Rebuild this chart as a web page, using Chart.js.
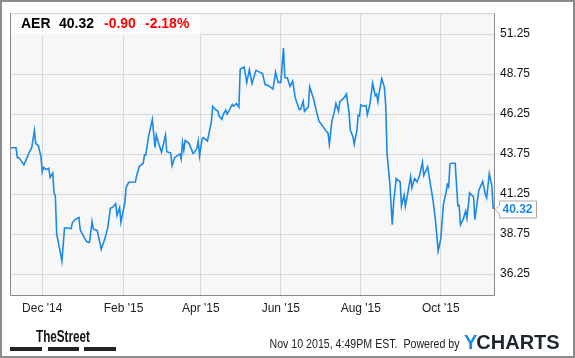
<!DOCTYPE html>
<html>
<head>
<meta charset="utf-8">
<style>
  html, body { margin: 0; padding: 0; background: #fff; }
  canvas { display: block; }
</style>
<script src="https://cdn.jsdelivr.net/npm/chart.js"></script>
</head>
<body>
<canvas id="c" width="575" height="358"></canvas>
<script>
// days counted from 1 Dec 2014, closing prices
const days = [-24, -20, -19, -18, -17, -14, -12, -10, -8, -6, -5, -3, -1, 0, 1, 3, 5, 6, 8, 9,
  10, 11, 13, 15, 17, 19, 22, 23, 25, 28, 29, 32, 34, 36, 38, 39, 42, 45, 48, 50,
  52, 54, 56, 57, 59, 60, 63, 64, 66, 71, 72, 74, 77, 78, 79, 81, 84, 86, 87, 89,
  91, 94, 95, 98, 99, 101, 103, 105, 106, 107, 108, 109, 112, 115, 116, 118, 119, 120, 122, 123,
  126, 129, 130, 132, 134, 135, 137, 138, 140, 141, 143, 145, 146, 148, 150, 151, 154, 156, 158, 160,
  163, 165, 168, 170, 172, 176, 178, 180, 182, 184, 185, 187, 189, 191, 193, 196, 197, 199, 200, 203,
  204, 207, 209, 211, 212, 214, 217, 218, 219, 221, 223, 224, 226, 227, 230, 232, 234, 235, 237, 238,
  240, 241, 242, 243, 245, 247, 248, 250, 252, 254, 255, 256, 257, 259, 261, 262, 263, 265, 267, 268,
  270, 273, 274, 276, 277, 279, 281, 282, 284, 286, 288, 290, 291, 294, 296, 298, 300, 302, 304, 306,
  308, 309, 310, 311, 312, 315, 317, 318, 319, 321, 323, 324, 326, 329, 330, 332, 333, 336, 338, 339,
  341, 343, 344];
const prices = [44.15, 44.15, 43.53, 43.53, 43.45, 43.08, 43.45, 43.86, 44.15, 45.22, 44.42, 44.27, 43.60, 42.63, 42.92, 42.78, 42.87, 42.30, 42.57, 41.33,
  41.13, 38.76, 37.94, 37.07, 39.13, 39.13, 39.09, 39.46, 39.66, 39.79, 39.01, 38.55, 38.27, 38.23, 39.54, 39.07, 38.97, 37.81, 38.52, 39.17,
  40.37, 40.45, 40.65, 39.91, 40.40, 39.50, 40.71, 41.68, 41.99, 42.01, 42.40, 42.98, 43.18, 43.70, 43.70, 44.83, 45.92, 44.15, 44.94, 44.36,
  43.86, 44.94, 43.90, 43.82, 43.04, 43.53, 43.66, 43.76, 43.45, 44.48, 43.98, 44.60, 44.42, 43.80, 43.84, 44.11, 44.57, 43.64, 44.73, 44.77,
  44.57, 45.76, 46.73, 46.54, 46.42, 46.11, 45.92, 46.21, 46.50, 46.25, 46.54, 46.85, 46.74, 46.91, 46.68, 49.05, 49.19, 48.23, 49.01, 48.16,
  48.98, 48.90, 48.78, 48.08, 48.06, 47.81, 48.86, 48.23, 48.23, 50.37, 48.53, 48.50, 47.98, 48.31, 47.26, 46.54, 46.54, 47.05, 46.42, 46.70,
  47.96, 47.19, 46.48, 45.82, 45.71, 45.49, 45.14, 45.06, 44.36, 45.82, 46.45, 46.91, 46.42, 47.03, 47.24, 47.50, 46.37, 45.24, 44.83, 44.36,
  45.24, 46.17, 46.13, 46.82, 46.74, 46.79, 46.21, 46.89, 48.18, 47.40, 47.50, 47.03, 47.61, 48.47, 47.92, 46.79, 43.80, 42.05, 39.34, 40.71,
  42.22, 42.01, 40.51, 41.19, 40.49, 41.39, 42.34, 41.64, 42.22, 42.01, 42.47, 43.24, 42.42, 42.96, 41.89, 40.92, 39.58, 37.69, 38.45, 40.61,
  41.33, 41.85, 41.70, 43.12, 43.18, 43.18, 40.53, 40.55, 39.34, 39.66, 40.20, 39.75, 41.33, 41.07, 39.65, 40.86, 41.48, 42.05, 41.23, 41.02,
  42.53, 41.74, 40.32];

const xTickDays = [0, 62, 121, 182, 243, 304];
const xTickLabels = ["Dec '14", "Feb '15", "Apr '15", "Jun '15", "Aug '15", "Oct '15"];
const yTicks = [36.25, 38.75, 41.25, 43.75, 46.25, 48.75, 51.25];

const ticker = 'AER';
const lastPrice = '40.32';
const change = '-0.90';
const changePct = '-2.18%';
const stamp = 'Nov 10 2015, 4:49PM EST.  Powered by';

const BLUE = '#1a8ae6';
const FONT = '"Liberation Sans", Arial, sans-serif';

// draw text squeezed/stretched to a given width
function fitText(ctx, text, x, y, w) {
  const m = ctx.measureText(text).width;
  ctx.save();
  ctx.translate(x, y);
  ctx.scale(w / m, 1);
  ctx.fillText(text, 0, 0);
  ctx.restore();
}

const decor = {
  id: 'decor',
  beforeDraw(chart) {
    const { ctx, chartArea: a } = chart;
    ctx.save();
    ctx.fillStyle = '#fff';
    ctx.fillRect(0, 0, chart.width, chart.height);
    ctx.fillStyle = '#f7f7f7';
    ctx.fillRect(a.left, a.top, a.right - a.left, a.bottom - a.top);
    ctx.restore();
  },
  afterDraw(chart) {
    const { ctx, chartArea: a } = chart;
    ctx.save();

    // plot borders
    ctx.lineWidth = 1;
    ctx.strokeStyle = '#cfcfcf';
    ctx.beginPath();
    ctx.moveTo(a.left, a.top + 0.5);
    ctx.lineTo(a.right, a.top + 0.5);
    ctx.stroke();
    ctx.strokeStyle = '#8a8a8a';
    ctx.beginPath();
    ctx.moveTo(a.left + 0.5, a.top);
    ctx.lineTo(a.left + 0.5, a.bottom + 0.5);
    ctx.lineTo(a.right + 0.5, a.bottom + 0.5);
    ctx.lineTo(a.right + 0.5, a.top);
    ctx.stroke();

    // header box
    ctx.fillStyle = 'rgba(255,255,255,0.75)';
    ctx.fillRect(a.left + 1, a.top + 1, 190, 21);
    ctx.font = 'bold 14px ' + FONT;
    ctx.textBaseline = 'alphabetic';
    ctx.textAlign = 'left';
    ctx.fillStyle = '#000';
    ctx.fillText(ticker, 21, 28);
    ctx.fillText(lastPrice, 59, 28);
    ctx.fillStyle = '#f00';
    ctx.fillText(change, 104, 28);
    ctx.fillText(changePct, 145, 28);

    // last price tag
    const y = Math.round(chart.scales.y.getPixelForValue(prices[prices.length - 1])) + 0.5;
    const bx = a.right + 5.5;
    ctx.beginPath();
    ctx.moveTo(a.right + 1, y);
    ctx.lineTo(bx, y - 4.5);
    ctx.lineTo(bx, y - 8.5);
    ctx.lineTo(bx + 37, y - 8.5);
    ctx.lineTo(bx + 37, y + 8.5);
    ctx.lineTo(bx, y + 8.5);
    ctx.lineTo(bx, y + 4.5);
    ctx.closePath();
    ctx.fillStyle = '#fff';
    ctx.fill();
    ctx.strokeStyle = '#a8a8a8';
    ctx.stroke();
    ctx.fillStyle = BLUE;
    ctx.font = 'bold 12px ' + FONT;
    ctx.textBaseline = 'middle';
    ctx.fillText(lastPrice, bx + 3, y + 0.5);

    // footer
    ctx.fillStyle = '#111';
    ctx.font = 'bold 16px ' + FONT;
    ctx.textBaseline = 'alphabetic';
    fitText(ctx, 'TheStreet', 36, 341.5, 54);
    ctx.fillStyle = '#222';
    ctx.fillRect(10, 347, 32, 4);
    ctx.fillRect(48, 347, 31, 4);
    ctx.fillRect(84, 347, 32, 4);

    ctx.font = '12px ' + FONT;
    ctx.fillStyle = '#222';
    ctx.textBaseline = 'middle';
    fitText(ctx, stamp, 269.5, 345, 190);

    ctx.font = 'bold 20px ' + FONT;
    ctx.textBaseline = 'alphabetic';
    ctx.fillStyle = BLUE;
    ctx.fillText('Y', 464, 349);
    const yw = ctx.measureText('Y').width;
    ctx.fillStyle = '#1d2630';
    ctx.fillText('CHARTS', 464 + yw - 1, 349);

    // outer frame
    ctx.strokeStyle = '#8c8c8c';
    ctx.lineWidth = 2;
    ctx.strokeRect(1, 1, chart.width - 2, chart.height - 2);
    ctx.restore();
  }
};

new Chart(document.getElementById('c'), {
  type: 'line',
  data: {
    datasets: [{
      data: days.map((d, i) => ({ x: d, y: prices[i] })),
      borderColor: BLUE,
      borderWidth: 1.6,
      pointRadius: 0,
      tension: 0,
      fill: false
    }]
  },
  options: {
    responsive: false,
    animation: false,
    devicePixelRatio: 1,
    layout: { padding: { left: 10, top: 10, right: 0, bottom: 0 } },
    plugins: { legend: { display: false }, tooltip: { enabled: false } },
    scales: {
      x: {
        type: 'linear',
        min: -24.6,
        max: 344.6,
        afterBuildTicks: s => { s.ticks = xTickDays.map(v => ({ value: v })); },
        afterFit: s => { s.height = 63; },
        grid: { color: '#d8d8d8', drawTicks: false },
        border: { display: false },
        ticks: {
          padding: 6,
          maxRotation: 0,
          autoSkip: false,
          color: '#222',
          font: { family: FONT, size: 12 },
          callback: (v, i) => xTickLabels[i]
        }
      },
      y: {
        position: 'right',
        min: 34.95,
        max: 52.55,
        afterBuildTicks: s => { s.ticks = yTicks.map(v => ({ value: v })); },
        afterFit: s => { s.width = 81; },
        grid: { color: '#d8d8d8', drawTicks: false },
        border: { display: false },
        ticks: {
          padding: 6,
          color: '#111',
          font: { family: FONT, size: 12 },
          callback: v => v.toFixed(2)
        }
      }
    }
  },
  plugins: [decor]
});
</script>
</body>
</html>
